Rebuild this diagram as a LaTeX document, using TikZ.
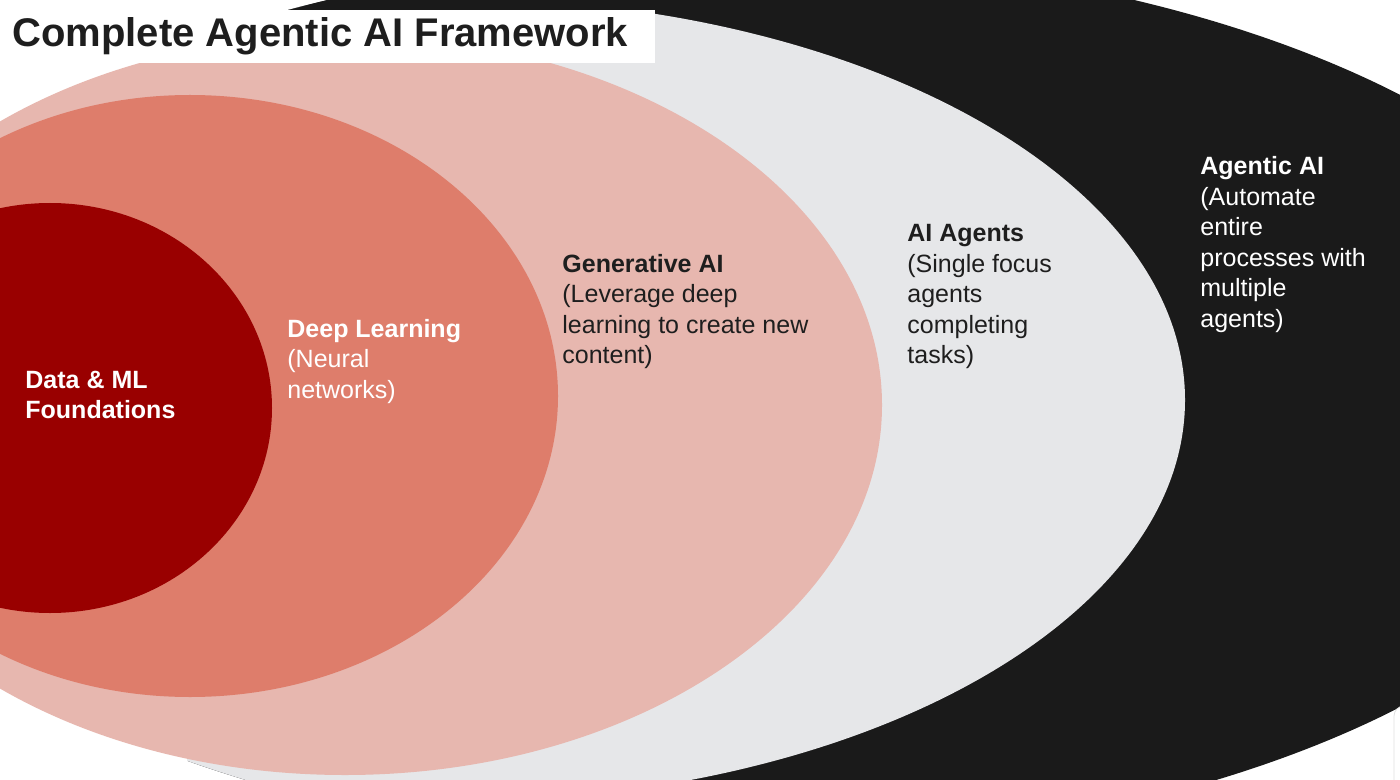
\documentclass[tikz,border=0pt]{standalone}
\usepackage{fontspec}
\setmainfont{Liberation Sans}
\definecolor{cblack}{HTML}{1A1A1A}
\definecolor{cgray}{HTML}{E6E7E9}
\definecolor{cpink}{HTML}{E7B7AF}
\definecolor{csalmon}{HTML}{DE7D6B}
\definecolor{cred}{HTML}{990000}
\definecolor{ctext}{HTML}{1E1E1E}
\begin{document}
\begin{tikzpicture}[x=0.5pt,y=-0.5pt,
  lbl/.style={anchor=base west, inner sep=0pt, font=\fontsize{12.5}{15.25}\selectfont},
  blackshape/.style={insert path={(731,401) ellipse [x radius=920, y radius=446]}}]
\useasboundingbox (0,0) rectangle (1400,780);
\fill[white] (0,0) rectangle (1400,780);
% outer black ring
\fill[cblack, blackshape];
% grey ring, kept inside the black one
\begin{scope}
  \clip[blackshape];
  \fill[cgray] (450,400) ellipse [x radius=735, y radius=402];
\end{scope}
% black edge visible above the title box
\begin{scope}
  \clip (0,0) rectangle (655,10);
  \fill[cblack, blackshape];
\end{scope}
% far-left strip is white outside the pink ellipse
\fill[white] (0,0) rectangle (187,780);
% inner ellipses
\fill[cpink]   (345,405) ellipse [x radius=537, y radius=370];
\fill[csalmon] (190,396) ellipse [x radius=368, y radius=301];
\fill[cred]    (50,408)  ellipse [x radius=222, y radius=205];
% scrollbar artifact
\filldraw[fill=white, draw=black!12, rounded corners=5] (1394,706) rectangle (1414,800);
% title
\fill[white] (0,10) rectangle (655,63);
\node[anchor=base west, inner sep=0pt, text=ctext, font=\fontsize{20}{24}\selectfont\bfseries] (title) at (12,47) {Complete Agentic AI Framework};
% labels
\node[lbl, text=white] (dml) at (25,388) {\begin{tabular}[t]{@{}l@{}}\textbf{Data \& ML}\\\textbf{Foundations}\end{tabular}};
\node[lbl, text=white] (dl) at (287,337) {\begin{tabular}[t]{@{}l@{}}\textbf{Deep Learning}\\(Neural\\networks)\end{tabular}};
\node[lbl, text=ctext] (gen) at (562,272) {\begin{tabular}[t]{@{}l@{}}\textbf{Generative AI}\\(Leverage deep\\learning to create new\\content)\end{tabular}};
\node[lbl, text=ctext] (agents) at (907,242) {\begin{tabular}[t]{@{}l@{}}\textbf{AI Agents}\\(Single focus\\agents\\completing\\tasks)\end{tabular}};
\node[lbl, text=white] (agentic) at (1200,175) {\begin{tabular}[t]{@{}l@{}}\textbf{Agentic AI}\\(Automate\\entire\\processes with\\multiple\\agents)\end{tabular}};
\end{tikzpicture}
\end{document}
